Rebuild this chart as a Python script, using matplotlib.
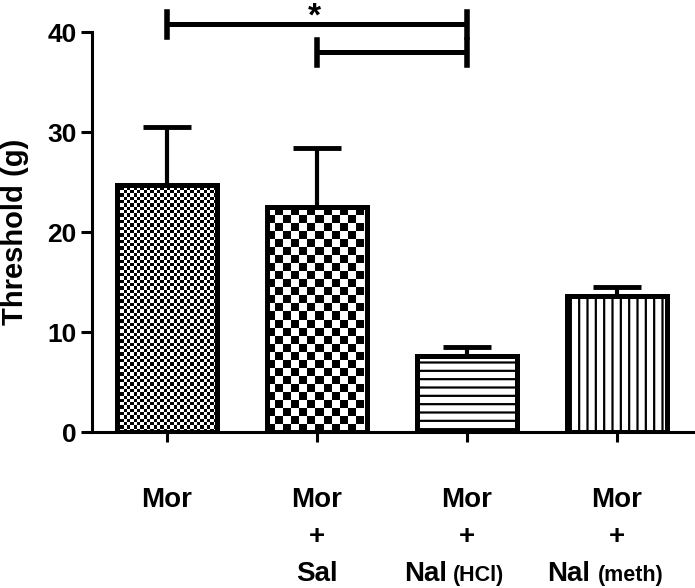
import numpy as np
import matplotlib
matplotlib.use('Agg')
import matplotlib.pyplot as plt

plt.rcParams['font.family'] = ['Liberation Sans', 'DejaVu Sans']
plt.rcParams['font.weight'] = 'bold'
plt.rcParams['hatch.linewidth'] = 1.6

# data
groups = ['Mor', 'Mor + Sal', 'Mor + Nal (HCl)', 'Mor + Nal (meth)']
means = [24.7, 22.5, 7.6, 13.6]
sems = [5.8, 5.9, 0.9, 0.9]
line1 = ['Mor', 'Mor', 'Mor', 'Mor']
line2 = ['', '+', '+', '+']
line3 = ['', 'Sal', 'Nal', 'Nal']
line3_small = ['', '', '(HCl)', '(meth)']
# significance brackets: (left group, right group, height)
sig_pairs = [(0, 2, 40.8), (1, 2, 38.0)]

fig = plt.figure(figsize=(6.95, 5.88), dpi=100)
ax = fig.add_axes([92/695, 1-432/588, 1-92/695, 400/588])

x = np.arange(len(means))
width = 0.67

# white bars first, pattern after, outline on top
bars = ax.bar(x, means, width, color='white', edgecolor='none', zorder=2)

# checkerboard fills for first two bars (square size in px)
check_px = [3.3, 8.0]
for i, sq in enumerate(check_px):
    b = bars[i]
    nx = int(round(100 / sq))
    ny = int(round(means[i] * 10 / sq)) + 1
    img = (np.indices((ny, nx)).sum(axis=0) % 2).astype(float)
    x0 = b.get_x()
    im = ax.imshow(img, cmap='gray', extent=(x0, x0 + nx * sq / 150, 0, ny * sq / 10),
                   origin='lower', interpolation='nearest', aspect='auto', zorder=3)
    im.set_clip_path(b)

ax.bar(x[2], means[2], width, color='none', edgecolor='black', hatch='--', linewidth=0, zorder=3)
ax.bar(x[3], means[3], width, color='none', edgecolor='black', hatch='||', linewidth=0, zorder=3)

ax.bar(x, means, width, fill=False, edgecolor='black', linewidth=3.6, zorder=4)

ax.errorbar(x, means, yerr=[np.zeros(len(sems)), sems], fmt='none', ecolor='black',
            elinewidth=3, capsize=17, capthick=3.5, zorder=1)

ax.set_xlim(-0.5, 3.52)
ax.set_ylim(0, 40)
ax.set_yticks([0, 10, 20, 30, 40])
ax.set_xticks(x)
ax.set_xticklabels([])
ax.spines['top'].set_visible(False)
ax.spines['right'].set_visible(False)
ax.spines['left'].set_linewidth(2.2)
ax.spines['bottom'].set_linewidth(2.2)
ax.tick_params(axis='y', length=8, width=2.2, labelsize=19, pad=3)
ax.tick_params(axis='x', length=7, width=2.2)
for lab in ax.get_yticklabels():
    lab.set_fontweight('bold')
ax.set_ylabel('Threshold (g)', fontsize=21, fontweight='bold', labelpad=13)

# category labels
trans = ax.get_xaxis_transform()
big = 20
for i in range(len(x)):
    ax.annotate(line1[i], (x[i], 0), xycoords=trans, xytext=(0, -54), textcoords='offset points',
                ha='center', va='baseline', fontsize=big, fontweight='bold')
    if line2[i]:
        ax.annotate(line2[i], (x[i], 0), xycoords=trans, xytext=(0, -81), textcoords='offset points',
                    ha='center', va='baseline', fontsize=big, fontweight='bold')
    if line3_small[i]:
        off = -14 if i == 2 else -19
        gap = 3.5 if i == 2 else 5
        ax.annotate(line3[i], (x[i], 0), xycoords=trans, xytext=(off, -107.5), textcoords='offset points',
                    ha='right', va='baseline', fontsize=big, fontweight='bold')
        ax.annotate(line3_small[i], (x[i], 0), xycoords=trans, xytext=(off + gap, -107.5), textcoords='offset points',
                    ha='left', va='baseline', fontsize=15.5, fontweight='bold')
    elif line3[i]:
        ax.annotate(line3[i], (x[i], 0), xycoords=trans, xytext=(0, -107.5), textcoords='offset points',
                    ha='center', va='baseline', fontsize=big, fontweight='bold')

# significance brackets
for a, b, h in sig_pairs:
    ax.plot([x[a], x[b]], [h, h], color='black', lw=3.6, clip_on=False, solid_capstyle='butt')
    for xx in (x[a], x[b]):
        ax.plot([xx, xx], [h - 1.3, h + 1.2], color='black', lw=4, clip_on=False)
ax.text(x[1] - 0.02, 41.5, '*', ha='center', va='center', fontsize=24, fontweight='bold')

fig.savefig('out.png', dpi=100)
